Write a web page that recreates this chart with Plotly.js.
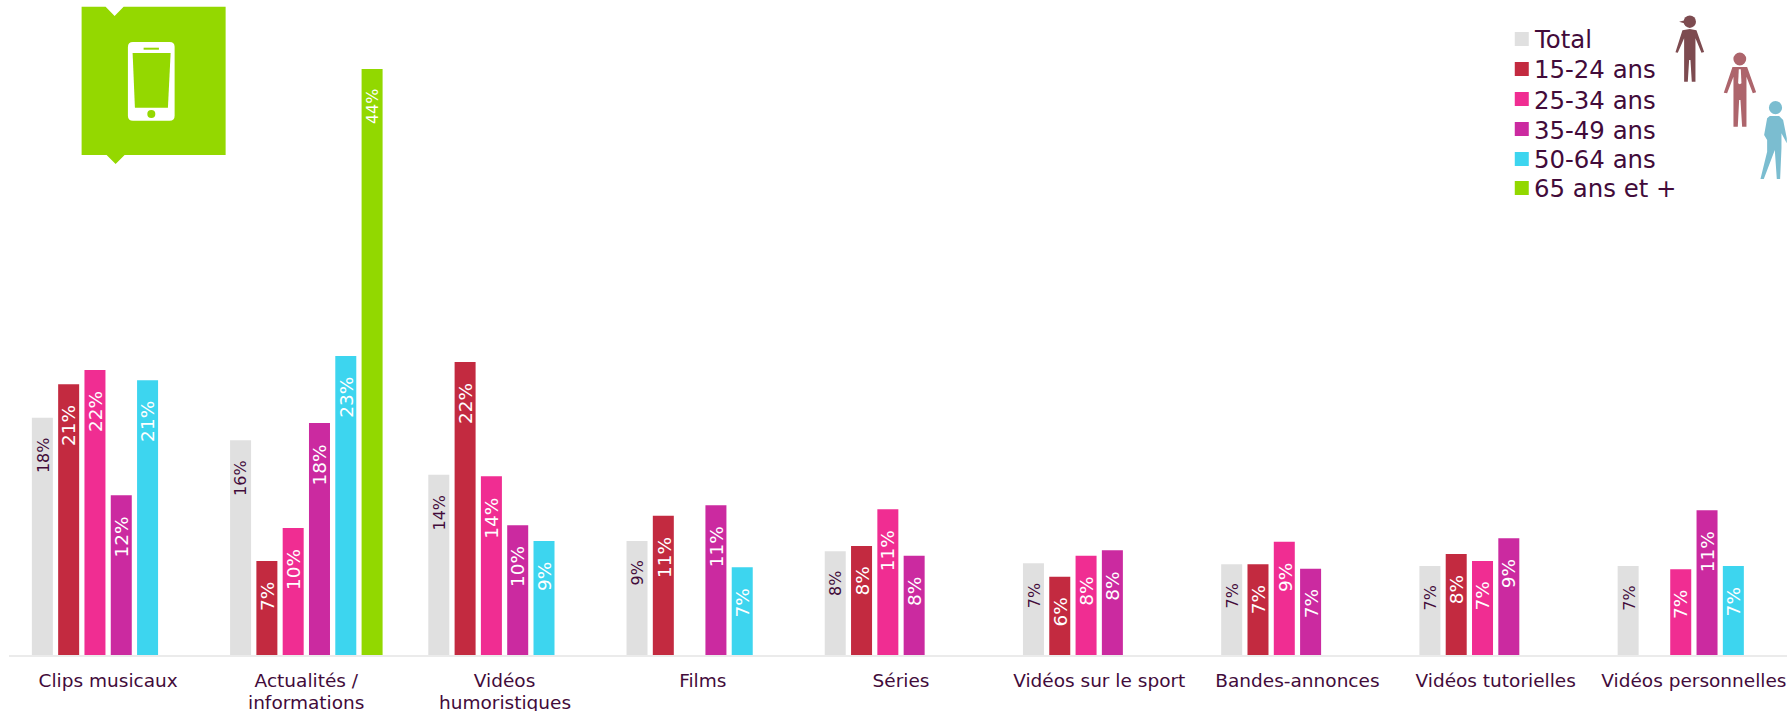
<!DOCTYPE html>
<html lang="fr">
<head>
<meta charset="utf-8">
<title>Vidéos regardées sur smartphone</title>
<script src="https://cdn.plot.ly/plotly-3.0.1.min.js"></script>
<style>
  html, body { margin: 0; padding: 0; background: #fff; overflow: hidden; }
  #chart { width: 1800px; height: 711px; }
</style>
</head>
<body>
<div id="chart"></div>
<script>
// Genres de vidéos, part des répondants (%) par tranche d'âge
const categories = ['Clips musicaux', 'Actualités /', 'Vidéos', 'Films', 'Séries',
  'Vidéos sur le sport', 'Bandes-annonces', 'Vidéos tutorielles', 'Vidéos personnelles'];
const categoryLine2 = ['', 'informations', 'humoristiques', '', '', '', '', '', ''];
const seriesNames = ['Total', '15-24 ans', '25-34 ans', '35-49 ans', '50-64 ans', '65 ans et +'];
const seriesColors = ['#e0e0e0', '#c32a40', '#f02d92', '#cb2aa0', '#3dd5ef', '#92d800'];
const total     = [18.0, 16.29, 13.68, 8.65, 7.87, 6.96, 6.88, 6.75, 6.75];
const age15to24 = [20.54, 7.13, 22.23, 10.57, 8.27, 5.94, 6.88, 7.66, null];
const age25to34 = [21.62, 9.64, 13.56, null, 11.05, 7.53, 8.6, 7.13, 6.5];
const age35to49 = [12.12, 17.6, 9.84, 11.36, 7.53, 7.94, 6.55, 8.85, 10.98];
const age50to64 = [20.84, 22.69, 8.65, 6.65, null, null, null, null, 6.75];
const age65plus = [null, 44.46, null, null, null, null, null, null, null];
const seriesValues = [total, age15to24, age25to34, age35to49, age50to64, age65plus];

const INK = '#420b3a';
const FONT = '"DejaVu Sans", Verdana, sans-serif';
const W = 1800, H = 711;
const M = { l: 9.4, r: 6.8, t: 0, b: 56 };
const labelSizes = [16, 18.5, 18.5, 18.5, 18.5, 16];
const labelDrops = [17.5, 19, 19, 19, 19, 17.5];
const barPitch = (W - M.l - M.r) / categories.length * (1 - 0.2038) / seriesNames.length;

// Pixel position on the page to paper coordinates
const px = x => (x - M.l) / (W - M.l - M.r);
const py = y => (H - M.b - y) / (H - M.t - M.b);

const traces = seriesNames.map((name, i) => ({
  type: 'bar',
  name,
  x: categories,
  y: seriesValues[i],
  marker: { color: seriesColors[i], line: { width: 0 } },
  hovertemplate: '%{x}: %{y:.0f}%<extra>' + name + '</extra>'
}));

// Value labels sit a fixed distance below the top of each bar
const annotations = [];
seriesValues.forEach((values, i) => values.forEach((v, j) => {
  if (v === null) return;
  annotations.push({
    xref: 'x', yref: 'y', x: categories[j], y: v,
    xshift: (i - 2.5) * barPitch + 0.5, yshift: -labelDrops[i],
    xanchor: 'center', yanchor: 'top', showarrow: false, textangle: -90,
    text: Math.round(v) + '%',
    font: { family: FONT, size: labelSizes[i], color: i === 0 ? INK : '#ffffff' }
  });
}));

// Second line of the long category names, set tighter than the default line height
categoryLine2.forEach((line, j) => {
  if (!line) return;
  annotations.push({
    xref: 'x', yref: 'paper', x: categories[j], y: py(702.5), xanchor: 'center', yanchor: 'middle',
    showarrow: false, text: line, font: { family: FONT, size: 18.5, color: INK }
  });
});

// Legend column
const legendRows = [39, 69, 99, 129, 159, 188];
const shapes = [];
const poly = (pts, fill) => shapes.push({
  type: 'path', xref: 'paper', yref: 'paper', layer: 'above', line: { width: 0 }, fillcolor: fill,
  path: 'M' + pts.map(p => px(p[0]) + ',' + py(p[1])).join('L') + 'Z'
});
const disc = (cx, cy, r, fill) => shapes.push({
  type: 'circle', xref: 'paper', yref: 'paper', layer: 'above', line: { width: 0 }, fillcolor: fill,
  x0: px(cx - r), x1: px(cx + r), y0: py(cy + r), y1: py(cy - r)
});
seriesNames.forEach((name, i) => {
  const c = legendRows[i];
  poly([[1515, c - 7], [1529, c - 7], [1529, c + 7], [1515, c + 7]], seriesColors[i]);
  annotations.push({
    xref: 'paper', yref: 'paper', x: px(1532), y: py(c + 1), xanchor: 'left', yanchor: 'middle',
    showarrow: false, text: name, font: { family: FONT, size: 24.4, color: INK }
  });
});

// Smartphone badge
poly([[82, 6.7], [106, 6.7], [115, 16], [124, 6.7], [226, 6.7], [226, 155], [125, 155], [116, 164], [107, 155], [82, 155]], '#94d800');
const rx = 5, bx0 = 128.3, bx1 = 175, by0 = 42, by1 = 120.7;
shapes.push({
  type: 'path', xref: 'paper', yref: 'paper', layer: 'above', line: { width: 0 }, fillcolor: '#ffffff',
  path: 'M' + px(bx0 + rx) + ',' + py(by0) + 'L' + px(bx1 - rx) + ',' + py(by0) +
    'Q' + px(bx1) + ',' + py(by0) + ' ' + px(bx1) + ',' + py(by0 + rx) +
    'L' + px(bx1) + ',' + py(by1 - rx) + 'Q' + px(bx1) + ',' + py(by1) + ' ' + px(bx1 - rx) + ',' + py(by1) +
    'L' + px(bx0 + rx) + ',' + py(by1) + 'Q' + px(bx0) + ',' + py(by1) + ' ' + px(bx0) + ',' + py(by1 - rx) +
    'L' + px(bx0) + ',' + py(by0 + rx) + 'Q' + px(bx0) + ',' + py(by0) + ' ' + px(bx0 + rx) + ',' + py(by0) + 'Z'
});
poly([[133, 53], [171, 53], [168.3, 107.7], [135.3, 107.7]], '#94d800');
poly([[144, 47.7], [159.3, 47.7], [159.3, 49.7], [144, 49.7]], '#94d800');
disc(151.7, 114, 4, '#94d800');

// Silhouettes beside the legend, outlined on a 3x grid anchored at (1660, 5)
const sil = p => p.map(q => [1660 + q[0] / 3, 5 + q[1] / 3]);
const C1 = '#7d4b50', C2 = '#ad656c', C3 = '#7bbdd0';
disc(1690, 21.7, 6.2, C1);
poly(sil([[58, 50], [78, 45], [78, 56]]), C1);
poly(sil([[90, 72], [68, 76], [47, 142], [54, 143], [73, 100], [73, 230], [84, 230], [88, 165], [92, 165], [96, 230], [107, 230], [107, 100], [125, 143], [133, 141], [110, 76]]), C1);
disc(1740, 59, 6.4, C2);
poly(sil([[218, 186], [192, 263], [202, 265], [221, 215], [221, 365], [234, 365], [238, 285], [242, 285], [247, 365], [260, 365], [260, 215], [279, 265], [289, 262], [262, 186]]), C2);
poly(sil([[237, 193], [243, 193], [245, 235], [240, 238], [235, 235]]), '#ffffff');
disc(1775.7, 107.7, 6.6, C3);
poly(sil([[322, 340], [313, 390], [322, 405], [322, 440], [302, 522], [312, 522], [345, 435], [351, 522], [361, 522], [365, 430], [365, 385], [381, 415], [381, 400], [370, 345], [358, 333], [330, 333]]), C3);

const layout = {
  width: W, height: H,
  margin: M,
  paper_bgcolor: '#ffffff', plot_bgcolor: '#ffffff',
  barmode: 'group', bargap: 0.2038, bargroupgap: 0.2015,
  showlegend: false,
  font: { family: FONT, color: INK },
  xaxis: {
    type: 'category', categoryorder: 'array', categoryarray: categories,
    showgrid: false, zeroline: false, showline: true, linecolor: '#ebebeb', linewidth: 2,
    ticks: 'outside', ticklen: 8, tickcolor: 'rgba(0,0,0,0)', tickangle: 0,
    tickfont: { family: FONT, size: 18.5, color: INK }
  },
  yaxis: { range: [0, 655 / 13.18], visible: false, fixedrange: true },
  annotations,
  shapes
};

Plotly.newPlot('chart', traces, layout, { displayModeBar: false, responsive: false });
</script>
</body>
</html>
